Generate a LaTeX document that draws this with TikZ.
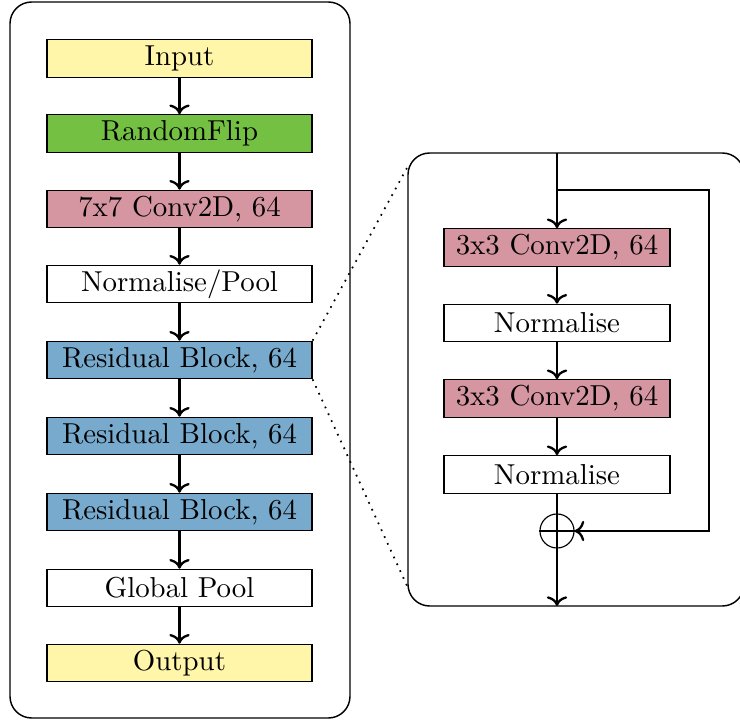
\documentclass[tikz,border=0pt]{standalone}
\usetikzlibrary{arrows.meta,calc}
\definecolor{inyellow}{RGB}{255,246,170}
\definecolor{flipgreen}{RGB}{116,192,67}
\definecolor{convpink}{RGB}{213,150,161}
\definecolor{resblue}{RGB}{120,170,205}
\begin{document}
\begin{tikzpicture}[x=0.3466pt,y=-0.3466pt,
  layer/.style={draw,line width=0.4pt,inner sep=0pt,minimum height=13pt,minimum width=91.85pt,font=\normalsize},
  sublayer/.style={layer,minimum width=78.3pt},
  arr/.style={->,thick},
  panel/.style={line width=0.5pt,rounded corners=7.5pt},
  zoomline/.style={dotted,semithick}]
\useasboundingbox (0,0) rectangle (740,720);

% main network panel
\draw[panel] (10,2) rectangle (350,718);
\node[layer,fill=inyellow]   (in)   at (179.5,58.5) {Input};
\node[layer,fill=flipgreen]  (flip) at (179.5,133.5) {RandomFlip};
\node[layer,fill=convpink]   (conv) at (179.5,209) {7x7 Conv2D, 64};
\node[layer]                 (norm) at (179.5,284) {Normalise/Pool};
\node[layer,fill=resblue]    (res1) at (179.5,360) {Residual Block, 64};
\node[layer,fill=resblue]    (res2) at (179.5,436) {Residual Block, 64};
\node[layer,fill=resblue]    (res3) at (179.5,512) {Residual Block, 64};
\node[layer]                 (gp)   at (179.5,588) {Global Pool};
\node[layer,fill=inyellow]   (out)  at (179.5,663) {Output};
\foreach \a/\b in {in/flip,flip/conv,conv/norm,norm/res1,res1/res2,res2/res3,res3/gp,gp/out}
  \draw[arr] (\a) -- (\b);

% residual block detail panel
\draw[panel] (408,153) rectangle (744,606);
\coordinate (btop) at (557,153);
\coordinate (bbot) at (557,606);
\coordinate (split) at (557,190);
\coordinate (skip) at (709,190);
\node[sublayer,fill=convpink] (c1) at (557,247.5) {3x3 Conv2D, 64};
\node[sublayer]               (n1) at (557,323) {Normalise};
\node[sublayer,fill=convpink] (c2) at (557,398.5) {3x3 Conv2D, 64};
\node[sublayer]               (n2) at (557,474.5) {Normalise};
\node[circle,draw,line width=0.4pt,minimum size=11.8pt,inner sep=0pt] (add) at (557,531) {};
\draw[line width=0.4pt] (add.west) -- (add.east);
\draw[arr] (btop) -- (c1);
\draw[arr] (c1) -- (n1);
\draw[arr] (n1) -- (c2);
\draw[arr] (c2) -- (n2);
\draw[thick] (n2) -- (add.south);
\draw[arr] (add.south) -- (bbot);
\draw[arr] (split) -- (skip) |- (add.east);

% zoom guides
\coordinate (zt) at (408,166);
\coordinate (zb) at (408,588);
\draw[zoomline] (res1.north east) -- (zt);
\draw[zoomline] (res1.south east) -- (zb);
\end{tikzpicture}
\end{document}
